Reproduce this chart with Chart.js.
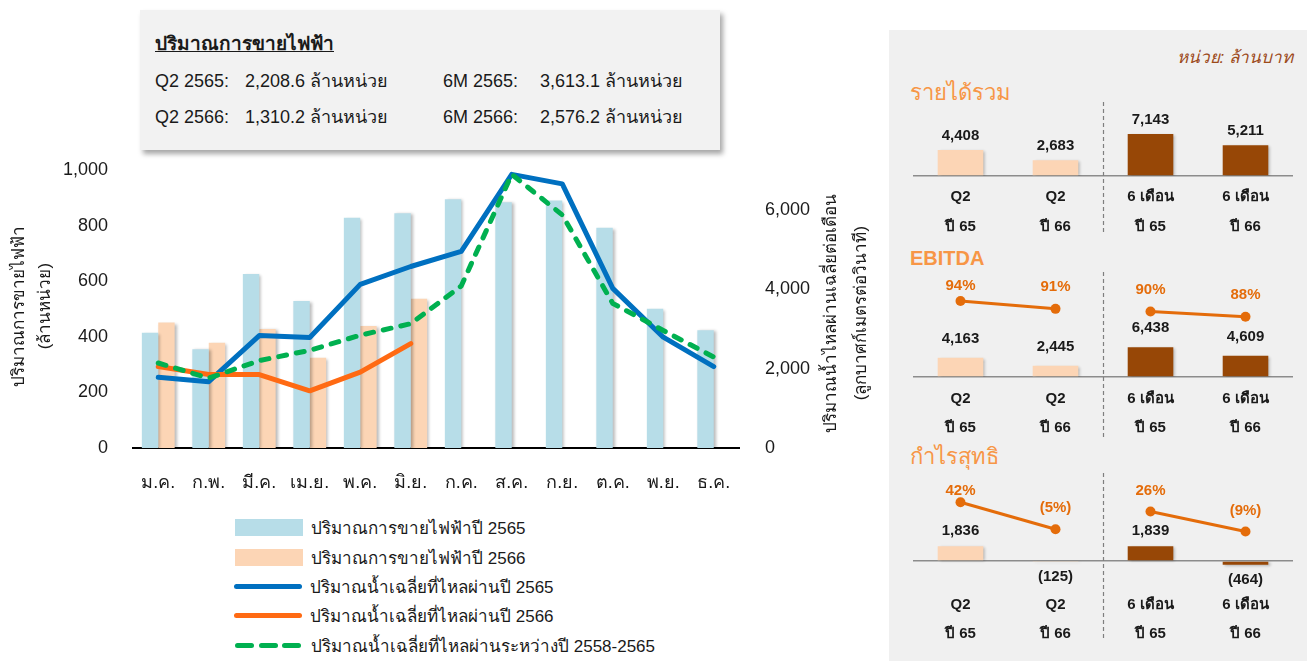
<!DOCTYPE html>
<html lang="th">
<head>
<meta charset="utf-8">
<title>ปริมาณการขายไฟฟ้า</title>
<script src="https://cdn.jsdelivr.net/npm/chart.js@4.4.1/dist/chart.umd.min.js"></script>
<style>
  body { margin: 0; background: #fff; font-family: "Liberation Sans", Arial, sans-serif; color: #1a1a1a; }
  #page { position: relative; width: 1314px; height: 661px; overflow: hidden; }
  .abs { position: absolute; white-space: nowrap; }
  #summary { left: 140px; top: 10px; width: 580px; height: 140px; background: #f2f2f2;
             box-shadow: 3px 4px 5px rgba(0,0,0,0.35); }
  .sum { font-size: 18px; line-height: 24px; }
  .sum-title { font-size: 19px; font-weight: bold; text-decoration: underline; line-height: 24px; }
  #mainChart { position: absolute; left: 0; top: 150px; }
  #legend { left: 235px; top: 513px; }
  .lg-row { height: 29.4px; display: flex; align-items: center; font-size: 17px; }
  .lg-sw { width: 68px; margin-right: 8px; display: flex; align-items: center; justify-content: space-between; }
  .lg-sw i { display: block; }
  #panel { left: 889px; top: 30px; width: 418px; height: 631px; background: #f0f0f0; }
  .unit { right: 21px; top: 47px; font-size: 17px; line-height: 22px; font-style: italic; color: #9c4a1a; }
  .sec { left: 910px; color: #f79646; font-size: 22px; line-height: 28px; }
  .panelChart { position: absolute; left: 889px; }
</style>
</head>
<body>
<div id="page">
  <div id="summary" class="abs"></div>
  <div class="abs sum-title" style="left:155px; top:32px;">ปริมาณการขายไฟฟ้า</div>
  <div class="abs sum" style="left:155px; top:69px;">Q2 2565:</div>
  <div class="abs sum" style="left:245px; top:69px;">2,208.6 ล้านหน่วย</div>
  <div class="abs sum" style="left:443px; top:69px;">6M 2565:</div>
  <div class="abs sum" style="left:540px; top:69px;">3,613.1 ล้านหน่วย</div>
  <div class="abs sum" style="left:155px; top:105px;">Q2 2566:</div>
  <div class="abs sum" style="left:245px; top:105px;">1,310.2 ล้านหน่วย</div>
  <div class="abs sum" style="left:443px; top:105px;">6M 2566:</div>
  <div class="abs sum" style="left:540px; top:105px;">2,576.2 ล้านหน่วย</div>

  <canvas id="mainChart" width="880" height="360"></canvas>
  <div id="legend" class="abs"></div>

  <div id="panel" class="abs"></div>
  <div class="abs unit">หน่วย: ล้านบาท</div>
  <div class="abs sec" style="top:79px;">รายได้รวม</div>
  <div class="abs sec" style="top:244px; font-weight:bold; font-size:20px;">EBITDA</div>
  <div class="abs sec" style="top:443px;">กำไรสุทธิ</div>
  <canvas id="revChart" class="panelChart" style="top:100px" width="418" height="140"></canvas>
  <canvas id="ebitdaChart" class="panelChart" style="top:268px" width="418" height="172"></canvas>
  <canvas id="npChart" class="panelChart" style="top:468px" width="418" height="182"></canvas>
</div>

<script>
// main chart data
const months = ['ม.ค.', 'ก.พ.', 'มี.ค.', 'เม.ย.', 'พ.ค.', 'มิ.ย.', 'ก.ค.', 'ส.ค.', 'ก.ย.', 'ต.ค.', 'พ.ย.', 'ธ.ค.'];
const sales2565 = [415, 355, 626, 529, 828, 844, 895, 884, 890, 792, 501, 424];
const sales2566 = [451, 379, 428, 325, 439, 537, null, null, null, null, null, null];
const flow2565 = [1780, 1670, 2830, 2780, 4120, 4570, 4950, 6890, 6650, 4020, 2790, 2050];
const flow2566 = [2050, 1850, 1850, 1440, 1910, 2630, null, null, null, null, null, null];
const flowAvg = [2140, 1760, 2200, 2460, 2840, 3130, 4080, 6890, 5870, 3640, 2960, 2290];
const seriesNames = [
  'ปริมาณการขายไฟฟ้าปี 2565',
  'ปริมาณการขายไฟฟ้าปี 2566',
  'ปริมาณน้ำเฉลี่ยที่ไหลผ่านปี 2565',
  'ปริมาณน้ำเฉลี่ยที่ไหลผ่านปี 2566',
  'ปริมาณน้ำเฉลี่ยที่ไหลผ่านระหว่างปี 2558-2565'
];
const salesTicks = [0, 200, 400, 600, 800, 1000];
const flowTicks = [0, 2000, 4000, 6000];

// right panel data
const panelCats = [['Q2', 'ปี 65'], ['Q2', 'ปี 66'], ['6 เดือน', 'ปี 65'], ['6 เดือน', 'ปี 66']];
const revenue = [4408, 2683, 7143, 5211];
const ebitda = [4163, 2445, 6438, 4609];
const ebitdaMargin = [94, 91, 90, 88];
const netProfit = [1836, -125, 1839, -464];
const netMargin = [42, -5, 26, -9];

const FONT = '"Liberation Sans", Arial, sans-serif';
Chart.defaults.font.family = FONT;
Chart.defaults.color = '#1a1a1a';

// soft shadow behind bars
const barShadow = {
  id: 'barShadow',
  beforeDatasetDraw(chart, args) {
    if (args.meta.type !== 'bar') return;
    const ctx = chart.ctx;
    ctx.save();
    ctx.shadowColor = 'rgba(0,0,0,0.28)';
    ctx.shadowBlur = 3;
    ctx.shadowOffsetX = 2;
    ctx.shadowOffsetY = 1;
  },
  afterDatasetDraw(chart, args) {
    if (args.meta.type !== 'bar') return;
    chart.ctx.restore();
  }
};

// rotated axis titles
const axisTitles = {
  id: 'axisTitles',
  afterDraw(chart, args, opts) {
    const ctx = chart.ctx;
    ctx.save();
    ctx.font = '17px ' + FONT;
    ctx.fillStyle = '#1a1a1a';
    ctx.textAlign = 'center';
    ctx.textBaseline = 'middle';
    opts.items.forEach(it => {
      it.lines.forEach((t, k) => {
        ctx.save();
        ctx.translate(it.x[k], it.y);
        ctx.rotate(-Math.PI / 2);
        ctx.fillText(t, 0, 0);
        ctx.restore();
      });
    });
    ctx.restore();
  }
};

const mainChart = new Chart(document.getElementById('mainChart'), {
  data: {
    labels: months,
    datasets: [
      { type: 'bar', label: seriesNames[0], data: sales2565, backgroundColor: '#b7dde8', yAxisID: 'y',
        order: 4, barPercentage: 1, categoryPercentage: 0.65 },
      { type: 'bar', label: seriesNames[1], data: sales2566, backgroundColor: '#fcd5b5', yAxisID: 'y',
        order: 4, barPercentage: 1, categoryPercentage: 0.65 },
      { type: 'line', label: seriesNames[2], data: flow2565, borderColor: '#0070c0', borderWidth: 5,
        pointRadius: 0, tension: 0, yAxisID: 'y1', order: 3, borderCapStyle: 'round', borderJoinStyle: 'round' },
      { type: 'line', label: seriesNames[3], data: flow2566, borderColor: '#ff6a13', borderWidth: 5,
        pointRadius: 0, tension: 0, yAxisID: 'y1', order: 2, borderCapStyle: 'round', borderJoinStyle: 'round' },
      { type: 'line', label: seriesNames[4], data: flowAvg, borderColor: '#00b050', borderWidth: 5,
        borderDash: [8, 10], pointRadius: 0, tension: 0, yAxisID: 'y1', order: 1, borderCapStyle: 'round' }
    ]
  },
  options: {
    responsive: false,
    animation: false,
    layout: { autoPadding: false, padding: { top: 20, left: 0, right: 0, bottom: 0 } },
    plugins: {
      legend: { display: false },
      tooltip: { enabled: false },
      axisTitles: {
        items: [
          { lines: ['ปริมาณการขายไฟฟ้า', '(ล้านหน่วย)'], x: [19, 45], y: 156 },
          { lines: ['ปริมาณน้ำไหลผ่านเฉลี่ยต่อเดือน', '(ลูกบาศก์เมตรต่อวินาที)'], x: [831, 861], y: 163 }
        ]
      }
    },
    scales: {
      x: {
        grid: { display: false, drawTicks: false },
        border: { color: '#000', width: 2 },
        ticks: { font: { size: 18 }, padding: 24, color: '#1a1a1a' },
        afterFit: s => { s.height = 62; }
      },
      y: {
        position: 'left', min: 0, max: 1000,
        // the gap between labels and plot comes from tickLength so it does not pad the top
        grid: { display: false, drawTicks: true, tickLength: 25 }, border: { display: false },
        ticks: { font: { size: 18 }, padding: 0 },
        afterBuildTicks: s => { s.ticks = salesTicks.map(v => ({ value: v })); },
        afterFit: s => { s.width = 133; }
      },
      y1: {
        position: 'right', min: 0, max: 7000,
        grid: { display: false, drawTicks: true, tickLength: 26 }, border: { display: false },
        ticks: { font: { size: 18 }, padding: 0 },
        afterBuildTicks: s => { s.ticks = flowTicks.map(v => ({ value: v })); },
        afterFit: s => { s.width = 141; }
      }
    }
  },
  plugins: [barShadow, axisTitles]
});

// html legend built from the datasets
(function buildLegend(chart) {
  const box = document.getElementById('legend');
  chart.data.datasets.forEach(ds => {
    const row = document.createElement('div');
    row.className = 'lg-row';
    const sw = document.createElement('span');
    sw.className = 'lg-sw';
    if (ds.type === 'bar') {
      sw.innerHTML = '<i style="width:68px;height:17px;background:' + ds.backgroundColor + '"></i>';
    } else if (ds.borderDash) {
      let s = '';
      for (let k = 0; k < 3; k++) s += '<i style="width:19px;height:5px;border-radius:3px;background:' + ds.borderColor + '"></i>';
      sw.innerHTML = s;
      sw.style.width = '66px';
      sw.style.marginRight = '10px';
    } else {
      sw.innerHTML = '<i style="width:70px;height:5px;border-radius:3px;background:' + ds.borderColor + '"></i>';
      sw.style.marginLeft = '-1px';
    }
    const txt = document.createElement('span');
    txt.textContent = ds.label;
    row.appendChild(sw);
    row.appendChild(txt);
    box.appendChild(row);
  });
})(mainChart);

// value / percent labels on the small charts
const fmtNum = v => v < 0 ? '(' + Math.abs(v).toLocaleString('en-US') + ')' : v.toLocaleString('en-US');
const fmtPct = v => v < 0 ? '(' + Math.abs(v) + '%)' : v + '%';

const valueLabels = {
  id: 'valueLabels',
  afterDatasetsDraw(chart, args, opts) {
    const ctx = chart.ctx;
    ctx.save();
    ctx.font = 'bold 15px ' + FONT;
    ctx.textAlign = 'center';
    ctx.textBaseline = 'middle';
    chart.data.datasets.forEach((ds, i) => {
      const meta = chart.getDatasetMeta(i);
      meta.data.forEach((el, j) => {
        const v = ds.data[j];
        if (v == null) return;
        if (ds.type === 'bar') {
          ctx.fillStyle = '#1a1a1a';
          const y = v < 0 ? el.y + opts.negGap : el.y - opts.barGap;
          ctx.fillText(fmtNum(v), el.x, y);
        } else {
          ctx.fillStyle = '#e46c0a';
          ctx.fillText(fmtPct(v), el.x, el.y - opts.pctGap[j]);
        }
      });
    });
    ctx.restore();
  }
};

// dashed divider between quarter and half-year groups
const divider = {
  id: 'divider',
  afterDraw(chart, args, opts) {
    const ctx = chart.ctx;
    const x = chart.scales.x.getPixelForValue(1.5);
    ctx.save();
    ctx.strokeStyle = '#7f7f7f';
    ctx.lineWidth = 1.2;
    ctx.setLineDash([4, 3]);
    ctx.beginPath();
    ctx.moveTo(Math.round(x) + 0.5, opts.top);
    ctx.lineTo(Math.round(x) + 0.5, opts.bottom);
    ctx.stroke();
    ctx.restore();
  }
};

function panelChart(id, bars, margins, g) {
  const datasets = [{
    type: 'bar', data: bars, yAxisID: 'y', order: 2,
    backgroundColor: ['#fcd5b5', '#fcd5b5', '#974706', '#974706'],
    barPercentage: 0.48, categoryPercentage: 1
  }];
  const scales = {
    x: {
      grid: { display: false, drawTicks: false }, border: { display: false },
      ticks: { font: { size: 15, weight: 'bold', lineHeight: 1.95 }, color: '#1a1a1a', padding: g.tickPad },
      afterFit: s => { s.height = g.axisH; }
    },
    y: {
      min: g.yMin, max: g.yMax,
      ticks: { display: false },
      grid: { color: '#8c8c8c', lineWidth: 1.5, drawTicks: false },
      border: { display: false },
      afterBuildTicks: s => { s.ticks = [{ value: 0 }]; },
      afterFit: s => { s.width = 0; }
    }
  };
  if (margins) {
    const lineStyle = {
      type: 'line', yAxisID: 'y2', order: 1, borderColor: '#e46c0a', borderWidth: 3,
      pointRadius: 5, pointBackgroundColor: '#e46c0a', pointBorderWidth: 0, tension: 0
    };
    datasets.push(Object.assign({ data: [margins[0], margins[1], null, null] }, lineStyle));
    datasets.push(Object.assign({ data: [null, null, margins[2], margins[3]] }, lineStyle));
    scales.y2 = { display: false, min: g.mMin, max: g.mMax };
  }
  return new Chart(document.getElementById(id), {
    data: { labels: panelCats, datasets },
    options: {
      responsive: false,
      animation: false,
      layout: { autoPadding: false, padding: { top: g.padTop, left: 24, right: 14, bottom: 0 } },
      plugins: {
        legend: { display: false },
        tooltip: { enabled: false },
        valueLabels: { barGap: g.barGap, negGap: 15, pctGap: g.pctGap },
        divider: { top: g.sepTop, bottom: g.sepBottom }
      },
      scales
    },
    plugins: [barShadow, valueLabels, divider]
  });
}

panelChart('revChart', revenue, null,
  { yMin: 0, yMax: 11200, padTop: 10, axisH: 64, tickPad: 6.5, barGap: 14.5, pctGap: [0, 0, 0, 0], sepTop: 2, sepBottom: 133 });
panelChart('ebitdaChart', ebitda, ebitdaMargin,
  { yMin: 0, yMax: 21000, mMin: 64.8, mMax: 102.1, padTop: 12, axisH: 63, tickPad: 7.4, barGap: 19, pctGap: [15, 22, 22, 22], sepTop: 4, sepBottom: 169 });
panelChart('npChart', netProfit, netMargin,
  { yMin: -1125, yMax: 8875, mMin: -76, mMax: 63.4, padTop: 22, axisH: 80, tickPad: 19.8, barGap: 15, pctGap: [11, 21, 21, 21], sepTop: 5, sepBottom: 170 });
</script>
</body>
</html>
